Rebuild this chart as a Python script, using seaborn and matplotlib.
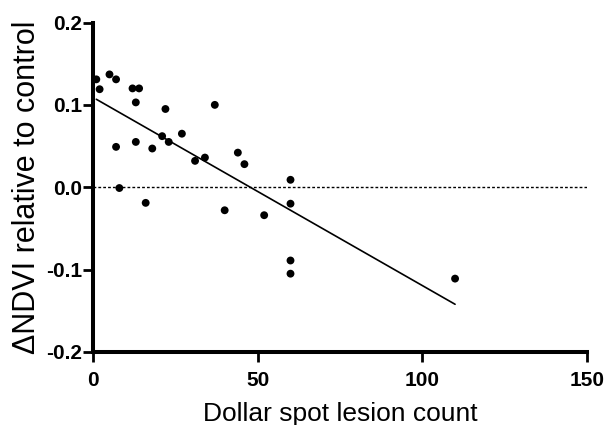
import matplotlib
matplotlib.use("Agg")
import matplotlib.pyplot as plt
import seaborn as sns
import numpy as np
import pandas as pd

lesion_count = [1, 2, 5, 7, 12, 14, 13, 22, 37, 7, 13, 18, 21, 23, 27, 31, 34, 44, 46,
                8, 16, 40, 52, 60, 60, 60, 60, 110]
delta_ndvi = [0.131, 0.119, 0.137, 0.131, 0.120, 0.120, 0.103, 0.095, 0.100, 0.049, 0.055,
              0.047, 0.062, 0.055, 0.065, 0.032, 0.036, 0.042, 0.028, -0.001, -0.019,
              -0.028, -0.034, 0.009, -0.020, -0.089, -0.105, -0.111]
x_ticks = [0, 50, 100, 150]
y_ticks = [-0.2, -0.1, 0.0, 0.1, 0.2]
y_tick_labels = ["-0.2", "-0.1", "0.0", "0.1", "0.2"]

df = pd.DataFrame({"count": lesion_count, "dndvi": delta_ndvi})

sns.set_style("ticks", {"axes.edgecolor": "black", "text.color": "black",
                        "axes.labelcolor": "black", "xtick.color": "black",
                        "ytick.color": "black"})
plt.rcParams['font.family'] = ['Liberation Sans', 'DejaVu Sans']

fig = plt.figure(figsize=(6.08, 4.25), dpi=100)
ax = fig.add_axes([0.153, 0.172, 0.812, 0.775])

ax.axhline(0, xmin=0, xmax=1, color="black", lw=1.0, ls=(0, (2, 1.5)), zorder=1)
sns.regplot(data=df, x="count", y="dndvi", scatter=False, ci=None, truncate=True,
            line_kws=dict(color="black", lw=1.2), ax=ax)
sns.scatterplot(data=df, x="count", y="dndvi", color="black", s=32, edgecolor="none",
                ax=ax, zorder=3)

ax.set_xlim(0, 150)
ax.set_ylim(-0.2, 0.2)
ax.set_xticks(x_ticks)
ax.set_xticklabels([str(t) for t in x_ticks])
ax.set_yticks(y_ticks)
ax.set_yticklabels(y_tick_labels)
for lab in ax.get_xticklabels() + ax.get_yticklabels():
    lab.set_fontweight("bold")
    lab.set_fontsize(15)
    lab.set_color("black")

ax.set_xlabel("Dollar spot lesion count", fontsize=19, color="black")
ax.set_ylabel("\u0394NDVI relative to control", fontsize=22, color="black")
ax.xaxis.labelpad = 8.5
ax.yaxis.labelpad = 3

for side in ["top", "right"]:
    ax.spines[side].set_visible(False)
for side in ["left", "bottom"]:
    ax.spines[side].set_linewidth(2.9)
    ax.spines[side].set_color("black")
ax.tick_params(axis="both", width=2.0, length=7, color="black", labelcolor="black")
ax.tick_params(axis="x", pad=7)
ax.tick_params(axis="y", pad=1)

fig.savefig("out.png", dpi=100)
